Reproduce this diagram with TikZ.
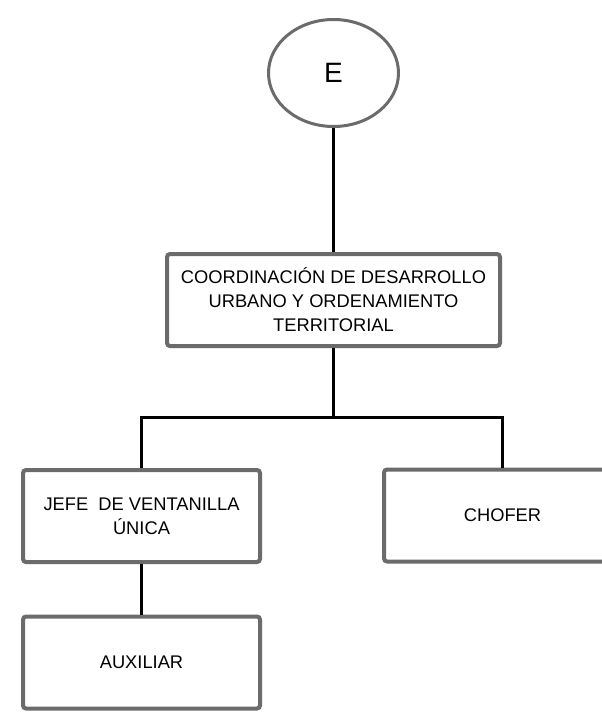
\documentclass[tikz,border=0pt]{standalone}
\usepackage{fontspec}
\setmainfont{Liberation Sans}
\usetikzlibrary{positioning,shapes.geometric}
\definecolor{borde}{HTML}{6B6B6B}

\begin{document}
\begin{tikzpicture}[x=1pt,y=-1pt,
    cargo/.style={draw=borde, line width=4pt, rounded corners=3pt, fill=white,
        minimum width=237pt, minimum height=92pt, align=center,
        font=\fontsize{18.3}{24}\selectfont},
    enlace/.style={draw=black, line width=3pt}]
\useasboundingbox (0,0) rectangle (602,712);
\clip (0,0) rectangle (602,712);

\node[ellipse, draw=borde, line width=3pt, minimum width=130pt, minimum height=107pt,
    font=\fontsize{28}{30}\selectfont] (E) at (333.5,73) {E};

\node[cargo, minimum width=333pt] (coord) at (333.5,300)
    {COORDINACIÓN DE DESARROLLO\\URBANO Y ORDENAMIENTO\\TERRITORIAL};

\node[cargo] (jefe) at (141.5,516) {JEFE\ \ DE VENTANILLA\\ÚNICA};
\node[cargo] (chofer) at (502.5,515.5) {CHOFER};
\node[cargo] (aux) at (141.5,662.5) {AUXILIAR};

% conectores
\draw[enlace] (E.south) -- (coord.north);
\draw[enlace] (coord.south) -- ++(0,69) coordinate (rama);
\draw[enlace] (jefe.north) |- (rama) -| (chofer.north);
\draw[enlace] (jefe.south) -- (aux.north);

\end{tikzpicture}
\end{document}
